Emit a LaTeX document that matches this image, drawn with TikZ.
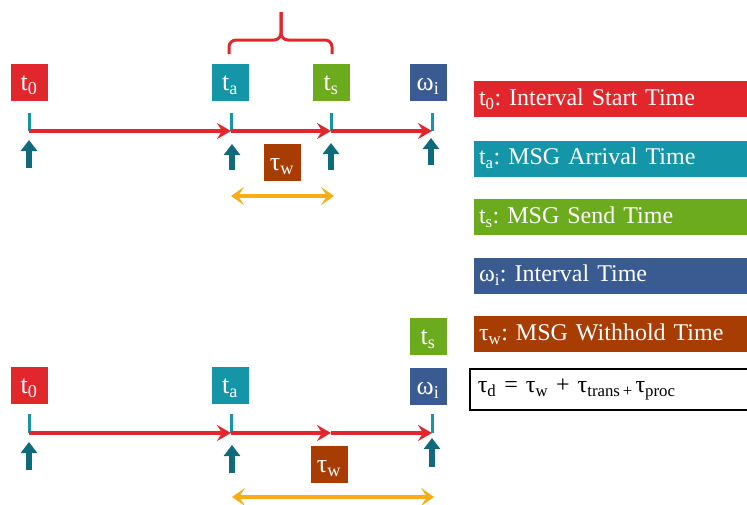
\documentclass[tikz,border=0pt]{standalone}
\usepackage{fontspec}
\setmainfont{Liberation Serif}
\usetikzlibrary{arrows.meta,shadows}

\definecolor{cred}{HTML}{E2262B}
\definecolor{cteal}{HTML}{1596A8}
\definecolor{cgreen}{HTML}{6BAB1D}
\definecolor{cblue}{HTML}{3A5A92}
\definecolor{cbrown}{HTML}{A83D03}
\definecolor{cdark}{HTML}{0F6B7B}
\definecolor{corange}{HTML}{F6AE14}

\tikzset{
  softshadow/.style={drop shadow={shadow xshift=0.8pt,shadow yshift=-0.8pt,opacity=0.3}},
  tbox/.style={rectangle, draw=white, line width=2pt, text=white,
    minimum width=39pt, minimum height=39pt, inner sep=2pt,
    text height=17pt, text depth=0pt,
    font=\fontsize{26}{28}\selectfont, softshadow},
  legend/.style={rectangle, draw=white, line width=2pt, text=white, anchor=west,
    minimum height=38pt, text width=275pt, align=left, inner xsep=6pt,
    font=\fontsize{24}{28}\selectfont, softshadow},
  timeline/.style={draw=cred, line width=4pt,
    -{Stealth[length=14pt,width=16pt,inset=5pt]}},
  tick/.style={draw=cteal, line width=3pt},
  uparrow/.style={draw=cdark, line width=6pt,
    -{Triangle[length=11pt,width=16pt]}},
  span/.style={draw=corange, line width=4pt,
    {Stealth[length=13pt,width=18pt,inset=6pt]}-{Stealth[length=13pt,width=18pt,inset=6pt]}},
  brace/.style={draw=cred, line width=3pt, rounded corners=7pt},
}

\begin{document}
\frenchspacing
\begin{tikzpicture}[x=1pt,y=-1pt]
\useasboundingbox (0,0) rectangle (747,504);
\clip (0,0) rectangle (747,504);

% ---------- upper timeline ----------
\node[tbox, fill=cred]   (t0a) at (29,82)  {t\textsubscript{0}};
\node[tbox, fill=cteal]  (taa) at (230,82) {t\textsubscript{a}};
\node[tbox, fill=cgreen] (tsa) at (331,82) {t\textsubscript{s}};
\node[tbox, fill=cblue]  (wia) at (428,82) {ω\textsubscript{i}};
\node[tbox, fill=cbrown] (twa) at (282,162) {τ\textsubscript{w}};

\coordinate (pa0) at (29,131);
\coordinate (pa1) at (231,131);
\coordinate (pa2) at (331,131);
\coordinate (pa3) at (432,131);

\foreach \p in {pa0,pa1,pa2,pa3} \draw[tick] (\p) -- ++(0,-18);
\draw[timeline] (pa0) -- (pa1);
\draw[timeline] (pa1) -- (pa2);
\draw[timeline] (pa2) -- (pa3);

\coordinate (ua0) at (29,168);  \coordinate (va0) at (29,140);
\coordinate (ua1) at (232,170); \coordinate (va1) at (232,144);
\coordinate (ua2) at (331,170); \coordinate (va2) at (331,143);
\coordinate (ua3) at (431,165); \coordinate (va3) at (431,138);
\draw[uparrow] (ua0) -- (va0);
\draw[uparrow] (ua1) -- (va1);
\draw[uparrow] (ua2) -- (va2);
\draw[uparrow] (ua3) -- (va3);

\coordinate (sa0) at (231,196);
\coordinate (sa1) at (334,196);
\draw[span] (sa0) -- (sa1);

% brace over the withhold interval
\coordinate (bl) at (229,54);
\coordinate (br) at (332,54);
\coordinate (bm) at (281,40);
\coordinate (bt) at (281,12);
\draw[brace] (bl) |- (bm) -- (bt);
\draw[brace] (br) |- (bm) -- (bt);

% ---------- lower timeline ----------
\node[tbox, fill=cred]   (t0b) at (29,385)  {t\textsubscript{0}};
\node[tbox, fill=cteal]  (tab) at (230,385) {t\textsubscript{a}};
\node[tbox, fill=cgreen] (tsb) at (428,336) {t\textsubscript{s}};
\node[tbox, fill=cblue]  (wib) at (428,386) {ω\textsubscript{i}};
\node[tbox, fill=cbrown] (twb) at (329,464) {τ\textsubscript{w}};

\coordinate (pb0) at (29,433);
\coordinate (pb1) at (231,433);
\coordinate (pb2) at (331,433);
\coordinate (pb3) at (432,433);

\foreach \p in {pb0,pb1,pb3} \draw[tick] (\p) -- ++(0,-19);
\draw[timeline] (pb0) -- (pb1);
\draw[timeline] (pb1) -- (pb2);
\draw[timeline] (pb2) -- (pb3);

\coordinate (ub0) at (29,470);  \coordinate (vb0) at (29,442);
\coordinate (ub1) at (232,473); \coordinate (vb1) at (232,445);
\coordinate (ub3) at (432,467); \coordinate (vb3) at (432,438);
\draw[uparrow] (ub0) -- (vb0);
\draw[uparrow] (ub1) -- (vb1);
\draw[uparrow] (ub3) -- (vb3);

\coordinate (sb0) at (232,497);
\coordinate (sb1) at (434,497);
\draw[span] (sb0) -- (sb1);

% ---------- legend ----------
\node[legend, fill=cred]   (l1) at (472,99)    {t\textsubscript{0}: Interval Start Time};
\node[legend, fill=cteal]  (l2) at (472,158.5) {t\textsubscript{a}: MSG Arrival Time};
\node[legend, fill=cgreen] (l3) at (472,217)   {t\textsubscript{s}: MSG Send Time};
\node[legend, fill=cblue]  (l4) at (472,275.5) {ω\textsubscript{i}: Interval Time};
\node[legend, fill=cbrown] (l5) at (472,334)   {τ\textsubscript{w}: MSG Withhold Time};
\node[rectangle, draw=black, line width=1.6pt, fill=white, anchor=west,
      minimum height=41pt, text width=275pt, align=left, inner xsep=8pt,
      font=\fontsize{24}{28}\selectfont] (eq) at (469,389.5)
  {τ\textsubscript{d} = τ\textsubscript{w} + τ\textsubscript{trans\,+\,}τ\textsubscript{proc}};
\end{tikzpicture}
\end{document}
